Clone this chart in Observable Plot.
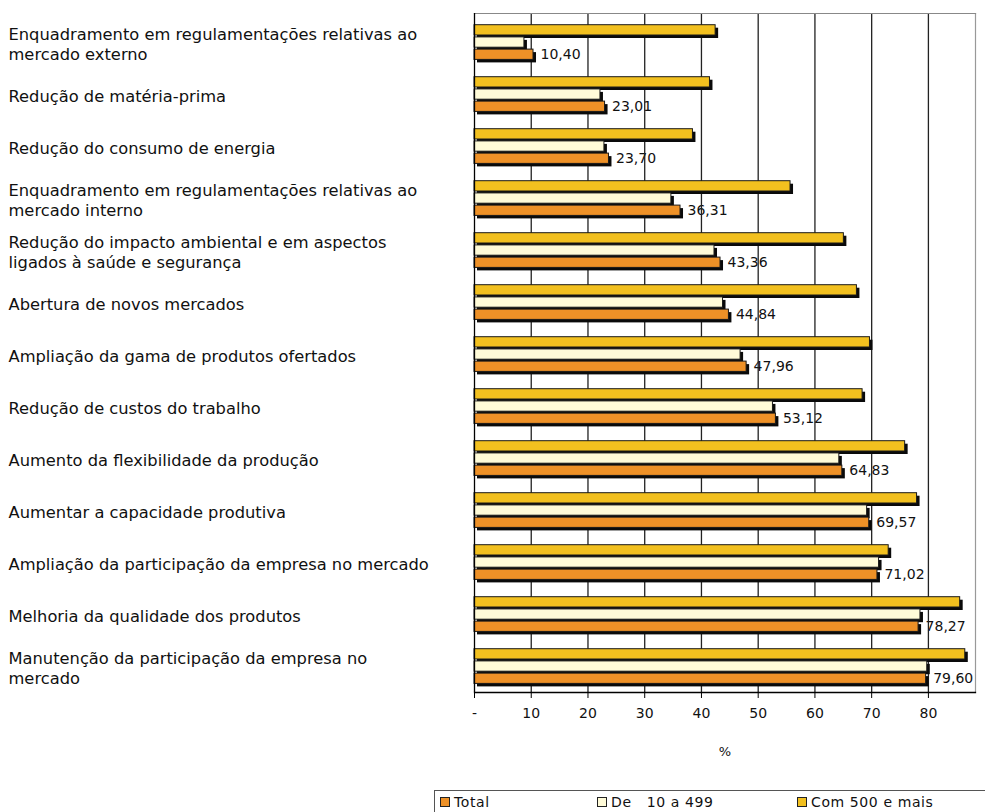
<!DOCTYPE html>
<html>
<head>
<meta charset="utf-8">
<script src="https://cdn.jsdelivr.net/npm/d3@7"></script>
<script src="https://cdn.jsdelivr.net/npm/@observablehq/plot@0.6"></script>
<style>
  html, body { margin: 0; padding: 0; background: #fff; overflow: hidden; }
  #chart svg { display: block; }
  #legend {
    position: relative; margin: 5px 0 0 434px; width: 580px; height: 30px;
    border: 1px solid #555; box-sizing: border-box;
    font: 14px "DejaVu Sans", sans-serif; color: #111;
  }
  #legend .item { position: absolute; top: 3px; white-space: pre; display: flex; align-items: center; letter-spacing: 0.6px; }
  #legend .sw { width: 8px; height: 8px; border: 1px solid #222; margin-right: 4px; }
</style>
</head>
<body>
<div id="chart"></div>
<div id="legend"></div>
<script>
// Motivos para inovar, % de empresas por faixa de pessoal ocupado
const categories = [
  "Enquadramento em regulamentações relativas ao\nmercado externo",
  "Redução de matéria-prima",
  "Redução do consumo de energia",
  "Enquadramento em regulamentações relativas ao\nmercado interno",
  "Redução do impacto ambiental e em aspectos\nligados à saúde e segurança",
  "Abertura de novos mercados",
  "Ampliação da gama de produtos ofertados",
  "Redução de custos do trabalho",
  "Aumento da flexibilidade da produção",
  "Aumentar a capacidade produtiva",
  "Ampliação da participação da empresa no mercado",
  "Melhoria da qualidade dos produtos",
  "Manutenção da participação da empresa no\nmercado"
];

const seriesNames = ["Com 500 e mais", "De   10 a 499", "Total"];
const seriesColors = ["#f2c01f", "#fffbd8", "#ee9127"];

const com500 = [42.5, 41.5, 38.5, 55.7, 65.1, 67.4, 69.7, 68.4, 75.9, 78.0, 73.0, 85.6, 86.5];
const de10a499 = [8.8, 22.2, 22.9, 34.7, 42.3, 43.8, 46.9, 52.6, 64.3, 69.2, 71.3, 78.6, 79.8];
const total = [10.40, 23.01, 23.70, 36.31, 43.36, 44.84, 47.96, 53.12, 64.83, 69.57, 71.02, 78.27, 79.60];

const xTicks = [0, 10, 20, 30, 40, 50, 60, 70, 80];
const xMax = 88.3;

const seriesValues = [com500, de10a499, total];
const rows = seriesNames.map((s, k) =>
  categories.map((c, i) => ({category: c, series: s, value: seriesValues[k][i]}))
);
const totalRows = rows[2];
const fmt = d => d.toFixed(2).replace(".", ",");

// the three bars of each category sit inside its band, one above the other
const insets = [
  {insetTop: 9.7, insetBottom: 32.0},
  {insetTop: 21.9, insetBottom: 19.8},
  {insetTop: 34.1, insetBottom: 7.6}
];

const barMarks = rows.flatMap((data, k) => [
  Plot.barX(data, {x: "value", y: "category", ...insets[k], fill: "#0a0a0a", dx: 3, dy: 3}),
  Plot.barX(data, {x: "value", y: "category", ...insets[k], fill: seriesColors[k], stroke: "#1a1a1a", strokeWidth: 1})
]);

const chart = Plot.plot({
  width: 985,
  height: 785,
  marginLeft: 474,
  marginRight: 10,
  marginTop: 13,
  marginBottom: 93,
  style: {fontFamily: "DejaVu Sans, sans-serif", fontSize: "14px", color: "#111", background: "#fff"},
  x: {domain: [0, xMax], axis: null},
  y: {domain: categories, padding: 0, axis: null},
  marks: [
    Plot.text(totalRows, {x: "value", y: "category", text: d => fmt(d.value), textAnchor: "start", dx: 7, dy: 13, fontSize: 14, fill: "#111"}),
    Plot.ruleX(xTicks.filter(d => d > 0), {stroke: "#222", strokeWidth: 1.3}),
    ...barMarks,
    Plot.ruleX([xMax], {stroke: "#999", strokeWidth: 1.2}),
    Plot.frame({anchor: "top", stroke: "#888", strokeWidth: 1.2}),
    Plot.frame({anchor: "bottom", stroke: "#000", strokeWidth: 1.3}),
    Plot.ruleX([0], {stroke: "#000", strokeWidth: 1.3}),
    Plot.axisX({ticks: xTicks, tickFormat: d => d === 0 ? "-" : String(d), tickSize: 6, tickPadding: 10, fontSize: 14, label: null, stroke: "#000"}),
    Plot.text(categories, {y: d => d, frameAnchor: "left", textAnchor: "start", dx: -466, dy: 2, fontSize: 16.3, lineHeight: 1.27, fill: "#111"}),
    Plot.text(["%"], {frameAnchor: "bottom", dy: 63, fontSize: 13, fill: "#111"})
  ]
});
document.getElementById("chart").appendChild(chart);

// legend: Total, De 10 a 499, Com 500 e mais
const legend = document.getElementById("legend");
const legendOrder = [2, 1, 0];
const legendLeft = [5, 162, 362];
legendOrder.forEach((k, j) => {
  const item = document.createElement("div");
  item.className = "item";
  item.style.left = legendLeft[j] + "px";
  const sw = document.createElement("span");
  sw.className = "sw";
  sw.style.background = seriesColors[k];
  const label = document.createElement("span");
  label.textContent = seriesNames[k];
  item.appendChild(sw);
  item.appendChild(label);
  legend.appendChild(item);
});
</script>
</body>
</html>
